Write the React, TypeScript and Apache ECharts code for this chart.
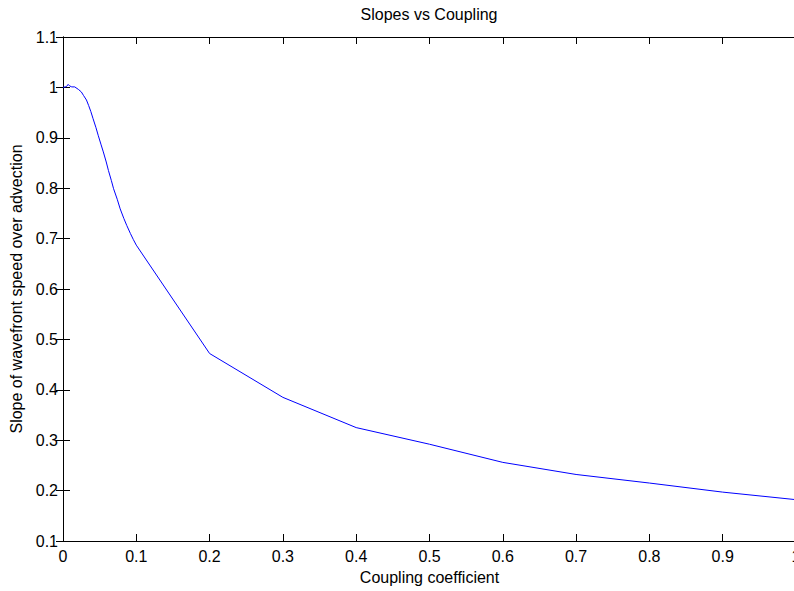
import React, { useEffect, useRef } from "react";
import * as echarts from "echarts";

const couplingValues = [
  0, 0.003, 0.005, 0.007, 0.009, 0.012, 0.016, 0.021, 0.025, 0.028, 0.032, 0.035,
  0.038, 0.041, 0.045, 0.048, 0.052, 0.055, 0.059, 0.062, 0.066, 0.069, 0.074,
  0.078, 0.083, 0.087, 0.092, 0.096, 0.1, 0.2, 0.3, 0.4, 0.5, 0.6, 0.7, 0.8, 0.9, 1.0,
];
const slopeValues = [
  1.0, 1.001, 1.002, 1.006, 1.003, 1.001, 1.001, 0.996, 0.991, 0.984, 0.975, 0.964,
  0.952, 0.938, 0.92, 0.905, 0.886, 0.872, 0.852, 0.835, 0.815, 0.799, 0.778,
  0.759, 0.74, 0.726, 0.71, 0.698, 0.687, 0.472, 0.385, 0.325, 0.292, 0.256, 0.232,
  0.215, 0.197, 0.182,
];

const titleText = "Slopes vs Coupling";
const xLabel = "Coupling coefficient";
const yLabel = "Slope of wavefront speed over advection";

const font = "Liberation Sans, Arial, Helvetica, sans-serif";
const FS = 16;

export default function App() {
  const ref = useRef<HTMLDivElement>(null);
  useEffect(() => {
    if (!ref.current) return;
    const chart = echarts.init(ref.current, undefined, { renderer: "svg" });
    const fmt = (v: number) => String(+v.toFixed(1));
    const axisCommon = {
      axisLine: { show: true, lineStyle: { color: "#000", width: 1 } },
      axisTick: { show: true, inside: true, length: 7, lineStyle: { color: "#000", width: 1 } },
      splitLine: { show: false },
    };
    chart.setOption({
      animation: false,
      backgroundColor: "#fff",
      graphic: [
        {
          type: "text",
          x: 429,
          y: 14,
          style: {
            text: titleText,
            align: "center",
            verticalAlign: "middle",
            font: `${FS}px ${font}`,
            fill: "#000",
          },
        },
      ],
      grid: {
        left: 63,
        top: 37,
        width: 733,
        height: 504,
        containLabel: false,
        outerBoundsMode: "none",
      },
      xAxis: [
        {
          type: "value",
          min: 0,
          max: 1,
          interval: 0.1,
          position: "bottom",
          name: xLabel,
          nameLocation: "middle",
          nameGap: 28,
          nameTextStyle: { fontFamily: font, fontSize: FS, color: "#000" },
          axisLabel: { fontFamily: font, fontSize: FS, color: "#000", margin: 7, formatter: fmt, showMaxLabel: true },
          ...axisCommon,
        },
        {
          type: "value",
          min: 0,
          max: 1,
          interval: 0.1,
          position: "top",
          axisLabel: { show: false },
          ...axisCommon,
        },
      ],
      yAxis: [
        {
          type: "value",
          min: 0.1,
          max: 1.1,
          interval: 0.1,
          position: "left",
          name: yLabel,
          nameLocation: "middle",
          nameGap: 38,
          nameTextStyle: { fontFamily: font, fontSize: FS, color: "#000" },
          axisLabel: { fontFamily: font, fontSize: FS, color: "#000", margin: 5, formatter: fmt },
          ...axisCommon,
        },
        {
          type: "value",
          min: 0.1,
          max: 1.1,
          interval: 0.1,
          position: "right",
          axisLabel: { show: false },
          ...axisCommon,
        },
      ],
      series: [
        {
          type: "line",
          data: couplingValues.map((x, i) => [x, slopeValues[i]]),
          showSymbol: false,
          symbol: "none",
          lineStyle: { color: "#0000ff", width: 1 },
          itemStyle: { color: "#0000ff" },
        },
      ],
    });
    return () => chart.dispose();
  }, []);
  return (
    <div
      ref={ref}
      style={{ position: "fixed", left: 0, top: 0, width: 794, height: 591, background: "#fff" }}
    />
  );
}
